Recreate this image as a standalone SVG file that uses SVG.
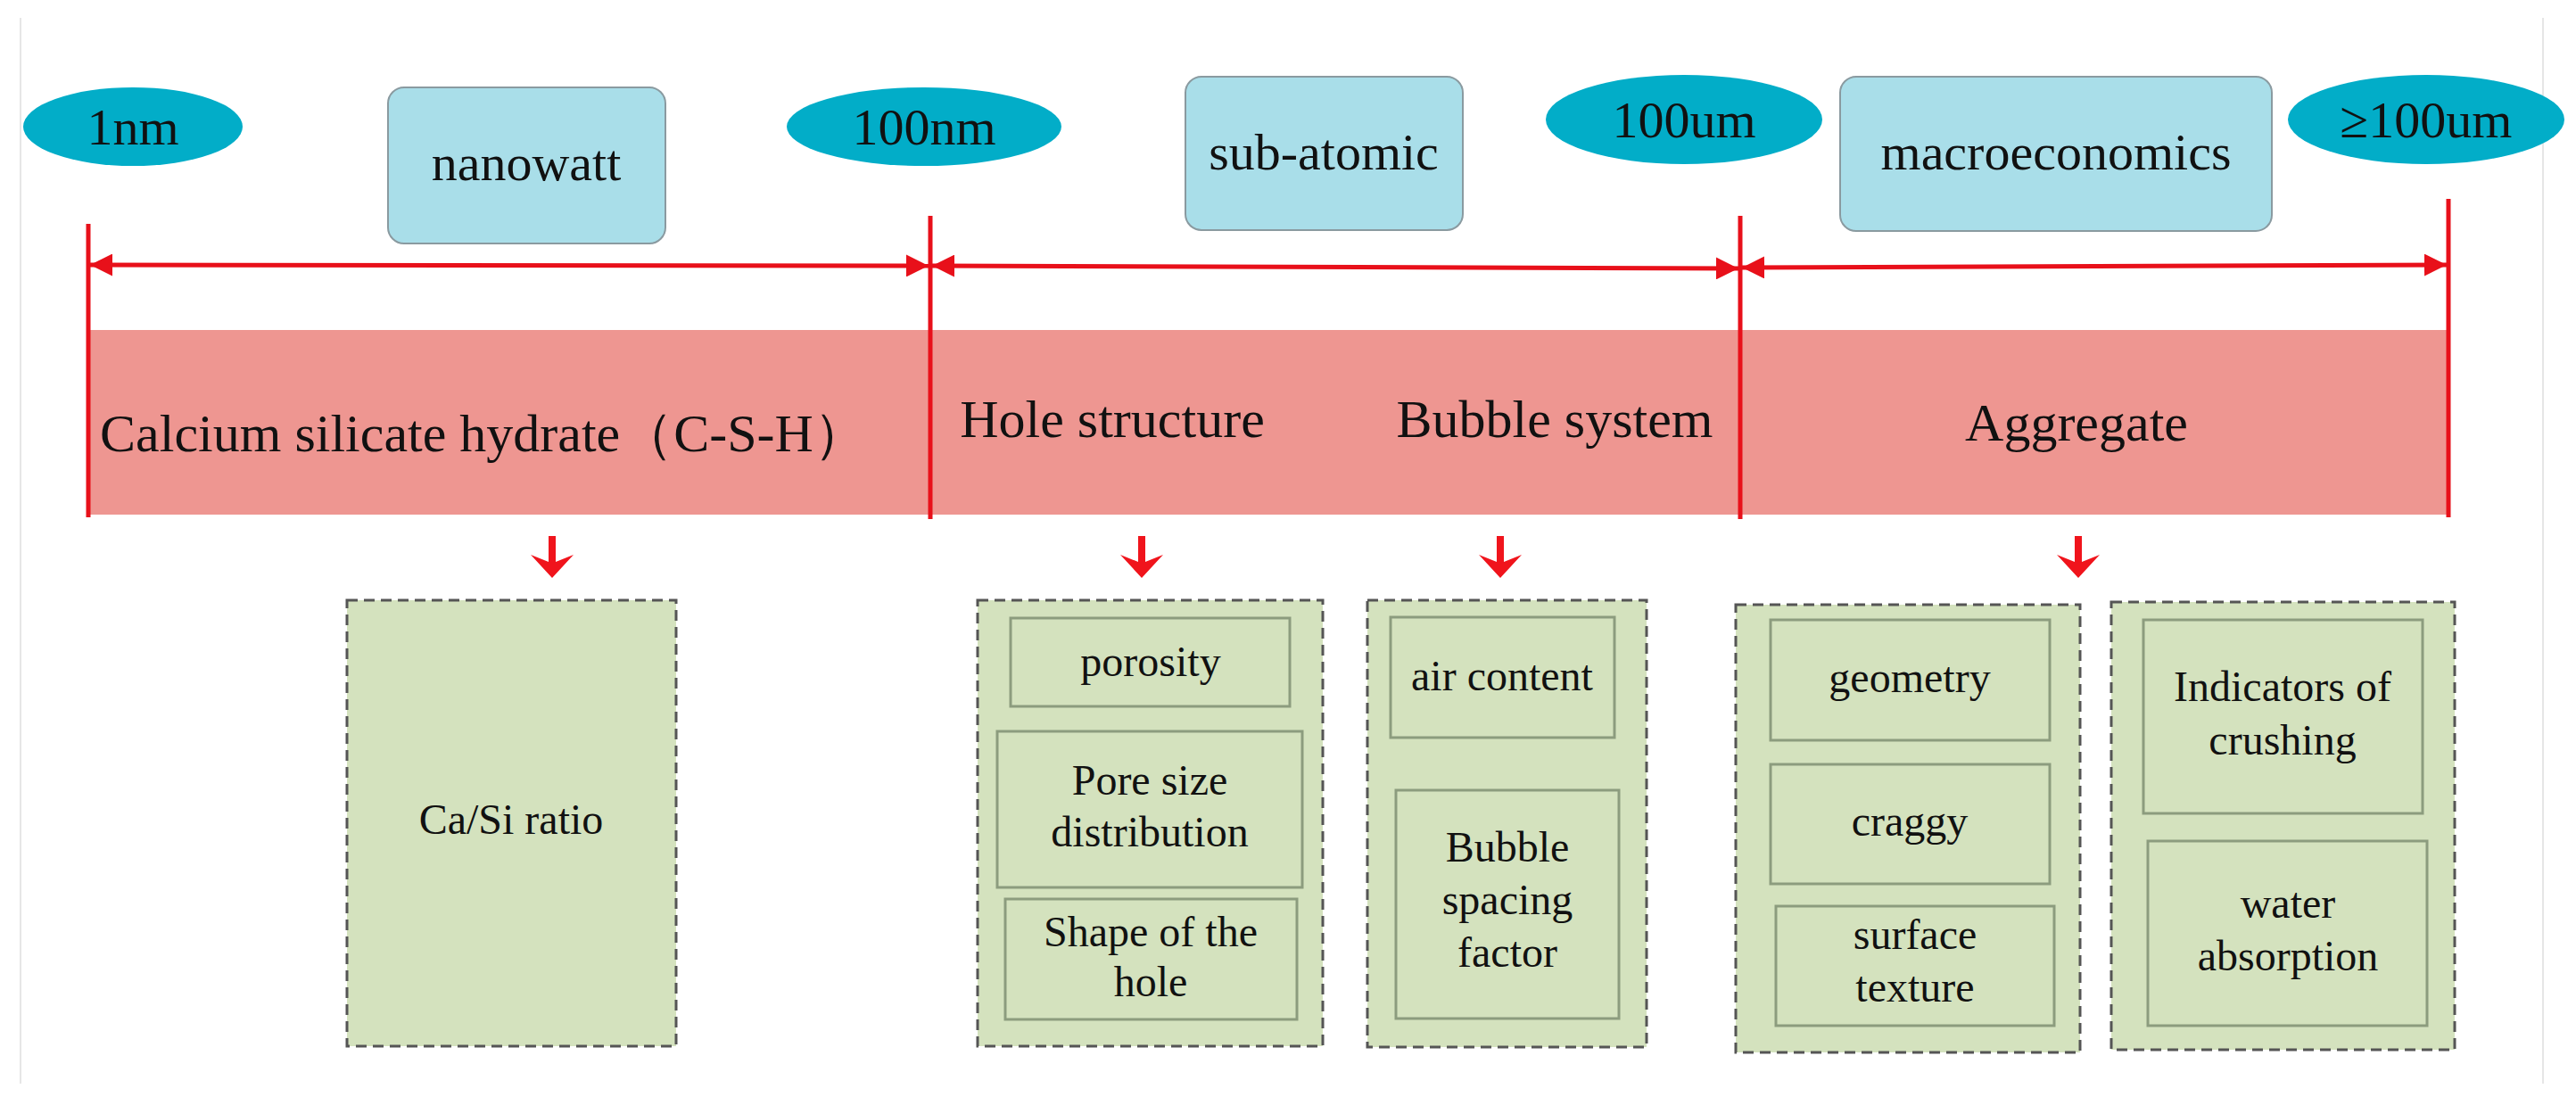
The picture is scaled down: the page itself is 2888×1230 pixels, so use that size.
<svg xmlns="http://www.w3.org/2000/svg" width="2888" height="1230" viewBox="0 0 2888 1230">
<style>
text{font-family:"Liberation Serif","Times New Roman",serif;fill:#111;text-anchor:middle}
.ell{fill:#02ADC8}
.top{fill:#A9DEE9;stroke:#8A9AA0;stroke-width:2}
.t56{font-size:58px}
.band{font-size:60px}
.outer{fill:#D4E2BE;stroke:#555;stroke-width:3;stroke-dasharray:12 7}
.inner{fill:#D4E2BE;stroke:#8C9C7E;stroke-width:3}
.s{font-size:48px}
.red{stroke:#E8101A;stroke-width:5;fill:none}
.dn{fill:#F0141C}
</style>
<defs>
<marker id="ah" viewBox="0 0 10 10" refX="10" refY="5" markerWidth="5" markerHeight="5" orient="auto-start-reverse"><path d="M0,0 L10,5 L0,10 Z" fill="#E8101A"/></marker>
</defs>
<g id="frame" stroke="#E6E6E6" stroke-width="2"><line x1="23" y1="20" x2="23" y2="1215"/><line x1="2851" y1="20" x2="2851" y2="1215"/></g>
<g id="band"><rect x="99" y="370" width="2646" height="207" fill="#EE9691"/></g>
<g id="connectors">
<line class="red" x1="99" y1="251" x2="99" y2="580"/>
<line class="red" x1="1043" y1="242" x2="1043" y2="582"/>
<line class="red" x1="1951" y1="242" x2="1951" y2="582"/>
<line class="red" x1="2745" y1="223" x2="2745" y2="580"/>
<line class="red" x1="101" y1="297" x2="1041" y2="298" marker-start="url(#ah)" marker-end="url(#ah)"/>
<line class="red" x1="1045" y1="298" x2="1949" y2="301" marker-start="url(#ah)" marker-end="url(#ah)"/>
<line class="red" x1="1953" y1="300" x2="2743" y2="297" marker-start="url(#ah)" marker-end="url(#ah)"/>
<path class="dn" d="M615,601 h8 v29 l20,-8 l-24,26 l-24,-26 l20,8 z"/>
<path class="dn" d="M1276,601 h8 v29 l20,-8 l-24,26 l-24,-26 l20,8 z"/>
<path class="dn" d="M1678,601 h8 v29 l20,-8 l-24,26 l-24,-26 l20,8 z"/>
<path class="dn" d="M2326,601 h8 v29 l20,-8 l-24,26 l-24,-26 l20,8 z"/>
</g>
<g id="n1nm"><ellipse class="ell" cx="149" cy="142" rx="123" ry="44"/><text class="t56" x="149" y="162">1nm</text></g>
<g id="nanowatt"><rect class="top" x="435" y="98" width="311" height="175" rx="18"/><text class="t56" x="590" y="202">nanowatt</text></g>
<g id="n100nm"><ellipse class="ell" cx="1036" cy="142" rx="154" ry="44"/><text class="t56" x="1036" y="162">100nm</text></g>
<g id="subatomic"><rect class="top" x="1329" y="86" width="311" height="172" rx="18"/><text class="t56" x="1484" y="190">sub-atomic</text></g>
<g id="n100um"><ellipse class="ell" cx="1888" cy="134" rx="155" ry="50"/><text class="t56" x="1888" y="154">100um</text></g>
<g id="macro"><rect class="top" x="2063" y="86" width="484" height="173" rx="18"/><text class="t56" x="2305" y="190">macroeconomics</text></g>
<g id="n100plus"><ellipse class="ell" cx="2720" cy="134" rx="155" ry="50"/><text class="t56" x="2720" y="154">≥100um</text></g>
<g id="bandlabels">
<text class="band" x="542" y="506">Calcium silicate hydrate（C-S-H）</text>
<text class="band" x="1247" y="490">Hole structure</text>
<text class="band" x="1743" y="490">Bubble system</text>
<text class="band" x="2328" y="494">Aggregate</text>
</g>
<g id="casi"><rect class="outer" x="389" y="673" width="369" height="500"/><text class="s" x="573" y="935">Ca/Si ratio</text></g>
<g id="hole"><rect class="outer" x="1096" y="673" width="387" height="500"/>
<rect class="inner" x="1133" y="693" width="313" height="99"/><text class="s" x="1290" y="758">porosity</text>
<rect class="inner" x="1118" y="820" width="342" height="175"/><text class="s" x="1289" y="891">Pore size</text><text class="s" x="1289" y="949">distribution</text>
<rect class="inner" x="1127" y="1008" width="327" height="135"/><text class="s" x="1290" y="1061">Shape of the</text><text class="s" x="1290" y="1117">hole</text></g>
<g id="bubble"><rect class="outer" x="1533" y="673" width="313" height="501"/>
<rect class="inner" x="1559" y="692" width="251" height="135"/><text class="s" x="1684" y="774">air content</text>
<rect class="inner" x="1565" y="886" width="250" height="256"/><text class="s" x="1690" y="966">Bubble</text><text class="s" x="1690" y="1025">spacing</text><text class="s" x="1690" y="1084">factor</text></g>
<g id="agg1"><rect class="outer" x="1946" y="678" width="386" height="502"/>
<rect class="inner" x="1985" y="695" width="313" height="135"/><text class="s" x="2141" y="776">geometry</text>
<rect class="inner" x="1985" y="857" width="313" height="134"/><text class="s" x="2141" y="937">craggy</text>
<rect class="inner" x="1991" y="1016" width="312" height="134"/><text class="s" x="2147" y="1064">surface</text><text class="s" x="2147" y="1123">texture</text></g>
<g id="agg2"><rect class="outer" x="2367" y="675" width="385" height="502"/>
<rect class="inner" x="2403" y="695" width="313" height="217"/><text class="s" x="2559" y="786">Indicators of</text><text class="s" x="2559" y="846">crushing</text>
<rect class="inner" x="2408" y="943" width="313" height="207"/><text class="s" x="2565" y="1029">water</text><text class="s" x="2565" y="1088">absorption</text></g>
</svg>
